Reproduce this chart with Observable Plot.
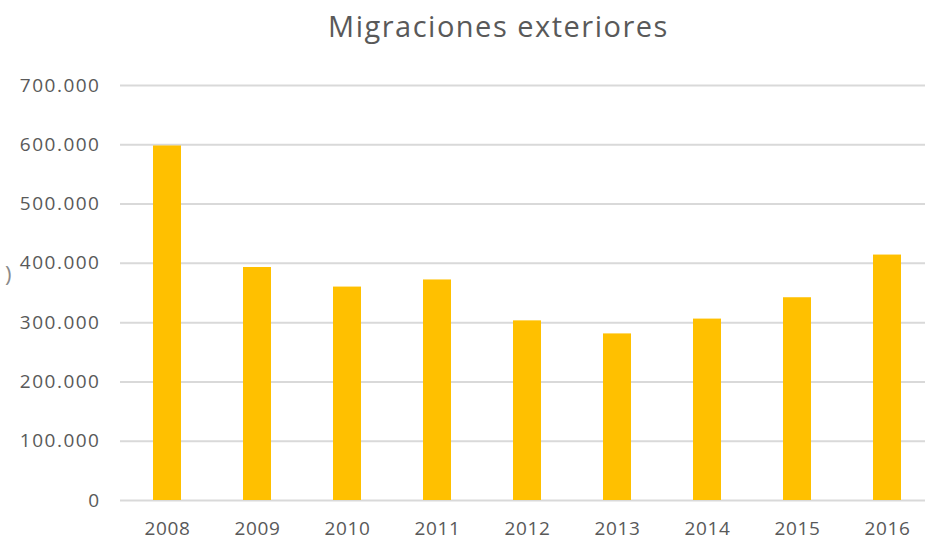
<!DOCTYPE html>
<html><head><meta charset="utf-8">
<script src="https://cdn.jsdelivr.net/npm/d3@7"></script>
<script src="https://cdn.jsdelivr.net/npm/@observablehq/plot@0.6"></script>
<style>
body{margin:0;background:#fff;}
#wrap{position:relative;width:925px;height:541px;font-family:"Open Sans",sans-serif;overflow:hidden;}
#title{position:absolute;left:0;top:7px;width:925px;text-align:center;font-size:29px;letter-spacing:1.5px;line-height:38px;color:#595959;padding-left:72px;box-sizing:border-box;}
#chart{position:absolute;left:0;top:60px;}
#stray{position:absolute;left:5px;top:258px;font-size:22px;color:#8a8a8a;font-family:"Open Sans",sans-serif;}
</style></head><body>
<div id="wrap">
<div id="title">Migraciones exteriores</div>
<div id="chart"></div>
<span id="stray">)</span>
</div>
<script>
const years = ["2008","2009","2010","2011","2012","2013","2014","2015","2016"];
const values = [598000,393000,360000,372000,303000,281000,306000,342000,414000];
const yTicks = [0,100000,200000,300000,400000,500000,600000,700000];

const data = years.map((y,i)=>({year:y,value:values[i]}));
const fmt = d3.formatLocale({decimal:",",thousands:".",grouping:[3],currency:["","€"]}).format(",");

const chart = Plot.plot({
  width:925, height:481,
  marginLeft:120, marginRight:0, marginTop:25, marginBottom:41,
  style:{fontSize:"19px", fontFamily:"'Open Sans', sans-serif", color:"#595959", background:"#fff", letterSpacing:"0.6px", overflow:"visible"},
  x:{domain:years, range:[120,933], paddingInner:0.69, paddingOuter:0.345, align:0.5, label:null},
  y:{domain:[0,700000], label:null},
  marks:[
    Plot.gridY(yTicks,{stroke:"#d9d9d9", strokeOpacity:1, strokeWidth:2}),
    Plot.barY(data,{x:"year", y:"value", fill:"#FFC000"}),
    Plot.axisY(yTicks,{tickSize:0, tickPadding:20, tickFormat:fmt, label:null}),
    Plot.axisX({tickSize:0, tickPadding:21, label:null})
  ]
});
d3.select(chart).selectAll('g[aria-label="y-axis tick label"] text').style("letter-spacing","1.5px");
document.getElementById("chart").appendChild(chart);
</script>
</body></html>
